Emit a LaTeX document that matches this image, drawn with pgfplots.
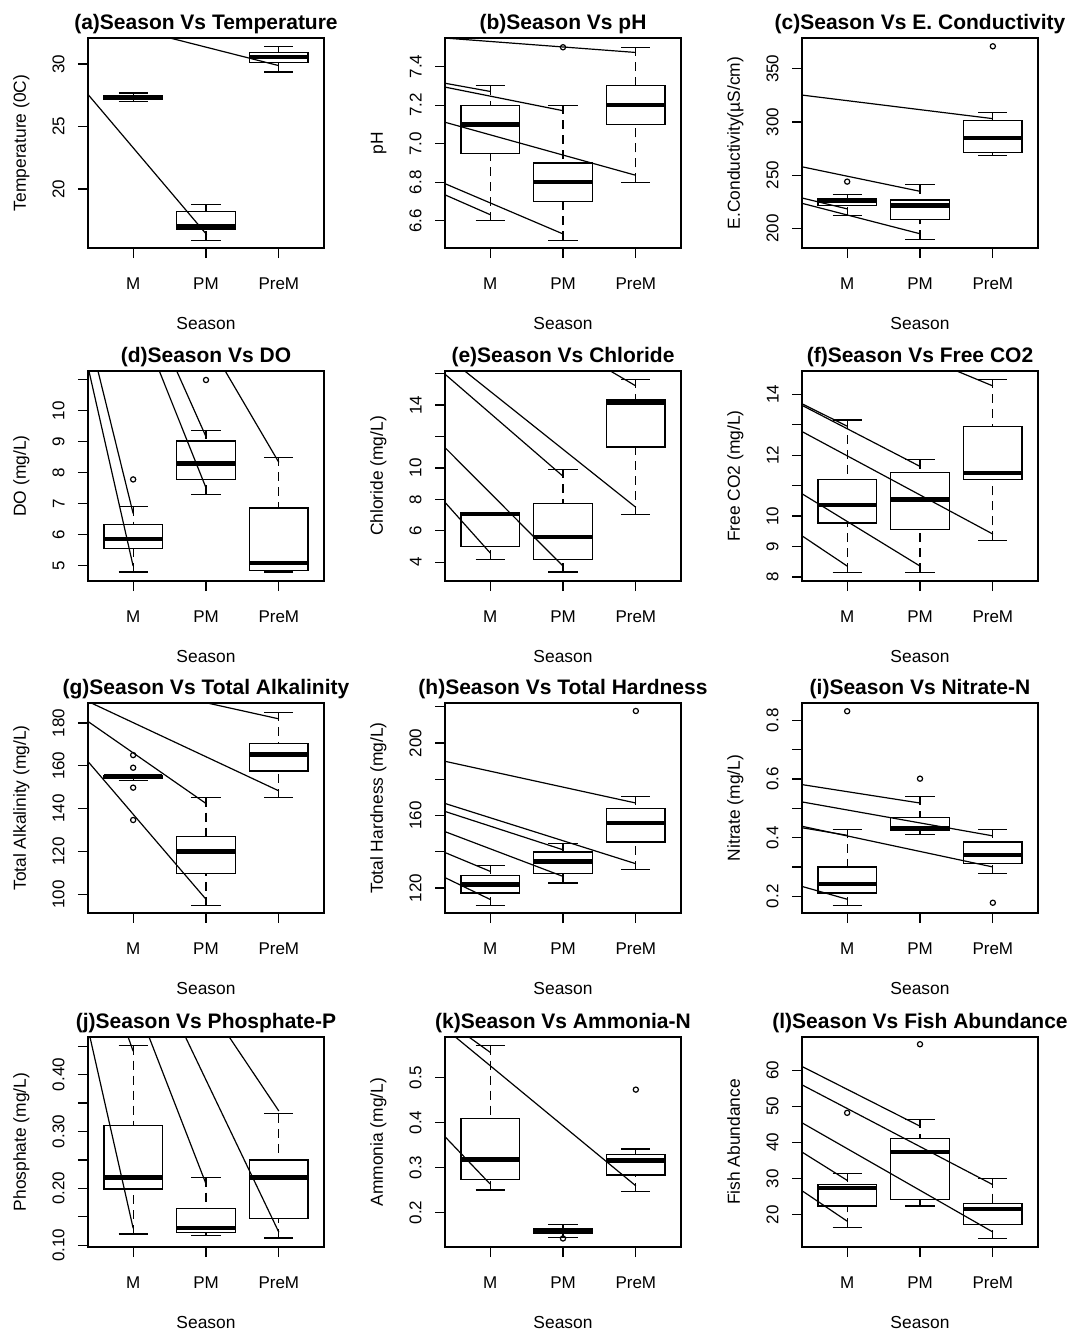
\documentclass[border=0pt]{standalone}
\usepackage{fontspec}
\setmainfont{Liberation Sans}
\usepackage{pgfplots}
\pgfplotsset{compat=1.18}
\usepgfplotslibrary{statistics}

% one R-style boxplot: position, lower whisker, q1, median, q3, upper whisker
\newcommand{\rbox}[6]{\addplot[line width=0.6pt, boxplot prepared={draw position=#1, lower whisker=#2, lower quartile=#3, median=#4, upper quartile=#5, upper whisker=#6}] coordinates {};}
% stray straight segment of the original figure
\newcommand{\seg}[4]{\addplot[line width=0.6pt, mark=none] coordinates {(#1,#2) (#3,#4)};}
\newcommand{\outl}[1]{\addplot[only marks, mark=o, mark size=1.3pt, mark options={line width=0.6pt}] coordinates {#1};}

\pgfplotsset{
  boxplot/draw/lower whisker/.code={%
    \draw[dash pattern=on 4.5pt off 3pt] (boxplot box cs:\pgfplotsboxplotvalue{lower whisker},0.5) -- (boxplot box cs:\pgfplotsboxplotvalue{lower quartile},0.5);
    \draw (boxplot whisker cs:\pgfplotsboxplotvalue{lower whisker},0) -- (boxplot whisker cs:\pgfplotsboxplotvalue{lower whisker},1);
  },
  boxplot/draw/upper whisker/.code={%
    \draw[dash pattern=on 4.5pt off 3pt] (boxplot box cs:\pgfplotsboxplotvalue{upper whisker},0.5) -- (boxplot box cs:\pgfplotsboxplotvalue{upper quartile},0.5);
    \draw (boxplot whisker cs:\pgfplotsboxplotvalue{upper whisker},0) -- (boxplot whisker cs:\pgfplotsboxplotvalue{upper whisker},1);
  },
  rpanel/.style={
    width=118pt, height=105pt, scale only axis,
    anchor=north west,
    xmin=0.38, xmax=3.62,
    xtick={1,2,3}, xticklabels={M,PM,PreM},
    tick align=outside, tick pos=left,
    major tick length=5pt,
    axis line style={line width=0.6pt},
    every tick/.style={black, line width=0.6pt},
    tick label style={font=\fontsize{8.5}{10}\selectfont, inner sep=0pt},
    /pgf/number format/assume math mode=true,
    xticklabel style={anchor=base},
    xticklabel shift=15.6pt,
    yticklabel style={rotate=90, anchor=south},
    yticklabel shift=6.5pt,
    label style={font=\fontsize{8.7}{10}\selectfont, inner sep=0pt},
    xlabel={Season},
    xlabel style={at={(axis description cs:0.5,-0.386)}, anchor=base},
    ylabel style={at={(axis description cs:-0.263,0.5)}, anchor=base},
    title style={font=\bfseries\fontsize{10.5}{12}\selectfont, inner sep=0pt,
      at={(axis description cs:0.5,1.041)}, anchor=base, yshift=-6pt},
    scaled y ticks=false,
    boxplot/draw direction=y,
    boxplot/box extend=0.8, boxplot/whisker extend=0.4,
    boxplot/every median/.style={line width=2.2pt},
  }
}

\begin{document}
\begin{tikzpicture}
\useasboundingbox (0,0) rectangle (533.5pt,-665pt);

% (a)
\begin{axis}[rpanel, at={(44pt,-19pt)}, title={(a)Season Vs Temperature}, ylabel={Temperature (0C)},
  ymin=15.28, ymax=32.08, ytick={20,25,30}, yticklabels={20,25,30}]
\rbox{1}{27.0}{27.15}{27.3}{27.5}{27.68}
\rbox{2}{15.9}{16.8}{17.0}{18.2}{18.75}
\rbox{3}{29.36}{30.13}{30.56}{30.93}{31.41}
\seg{0.375}{27.6}{2.01}{16.35}
\seg{1.506}{32.08}{3.0}{29.87}
\end{axis}

% (b)
\begin{axis}[rpanel, at={(222.5pt,-19pt)}, title={(b)Season Vs pH}, ylabel={pH},
  ymin=6.459, ymax=7.548, ytick={6.6,6.8,7.0,7.2,7.4}, yticklabels={6.6,6.8,7.0,7.2,7.4}]
\rbox{1}{6.6}{6.95}{7.1}{7.2}{7.3}
\rbox{2}{6.5}{6.7}{6.8}{6.9}{7.2}
\rbox{3}{6.8}{7.1}{7.2}{7.3}{7.5}
\outl{(2,7.5)}
\seg{0.372}{7.548}{3.0}{7.473}
\seg{0.372}{7.314}{1.0}{7.271}
\seg{0.372}{7.294}{2.0}{7.171}
\seg{0.372}{7.112}{3.0}{6.836}
\seg{0.372}{6.794}{2.0}{6.532}
\seg{0.372}{6.736}{1.0}{6.632}
\end{axis}

% (c)
\begin{axis}[rpanel, at={(401pt,-19pt)}, title={(c)Season Vs E. Conductivity}, ylabel={E.Conductivity(µS/cm)},
  ymin=181.5, ymax=378.9, ytick={200,250,300,350}, yticklabels={200,250,300,350}]
\rbox{1}{211.8}{221.4}{225.8}{227.7}{231.7}
\rbox{2}{189.6}{208.0}{221.4}{226.7}{241.1}
\rbox{3}{268.2}{271}{285}{301.5}{308.7}
\outl{(1,243.9) (3,371.1)}
\seg{0.375}{325.3}{3.0}{303.1}
\seg{0.375}{257.9}{2.0}{234.8}
\seg{0.375}{228.6}{1.0}{218.3}
\seg{0.375}{223.6}{2.0}{194.9}
\end{axis}

% (d)
\begin{axis}[rpanel, at={(44pt,-185.5pt)}, title={(d)Season Vs DO}, ylabel={DO (mg/L)},
  ymin=4.5, ymax=11.28, ytick={5,6,7,8,9,10,11}, yticklabels={5,6,7,8,9,10,}]
\rbox{1}{4.79}{5.54}{5.86}{6.33}{6.9}
\rbox{2}{7.3}{7.78}{8.3}{9.02}{9.37}
\rbox{3}{4.79}{4.83}{5.09}{6.86}{8.49}
\outl{(1,7.78) (2,10.99)}
\seg{0.393}{11.28}{1.0}{4.98}
\seg{0.517}{11.28}{1.0}{6.68}
\seg{1.359}{11.28}{2.0}{7.51}
\seg{1.598}{11.28}{2.0}{9.16}
\seg{2.264}{11.28}{3.0}{8.33}
\end{axis}

% (e)
\begin{axis}[rpanel, at={(222.5pt,-185.5pt)}, title={(e)Season Vs Chloride}, ylabel={Chloride (mg/L)},
  ymin=2.8, ymax=16.17, ytick={4,6,8,10,12,14,16}, yticklabels={4,6,8,10,,14,}]
\rbox{1}{4.17}{5.01}{7.05}{7.15}{7.15}
\rbox{2}{3.37}{4.17}{5.6}{7.75}{9.92}
\rbox{3}{7.01}{11.33}{14.17}{14.32}{15.64}
\seg{0.372}{16.0}{2.0}{9.47}
\seg{0.651}{16.17}{3.0}{7.49}
\seg{2.651}{16.17}{3.0}{15.22}
\seg{0.372}{11.33}{2.0}{3.75}
\seg{0.372}{7.85}{1.0}{4.59}
\end{axis}

% (f)
\begin{axis}[rpanel, at={(401pt,-185.5pt)}, title={(f)Season Vs Free CO2}, ylabel={Free CO2 (mg/L)},
  ymin=7.87, ymax=14.76, ytick={8,9,10,11,12,13,14}, yticklabels={8,9,10,,12,,14}]
\rbox{1}{8.16}{9.77}{10.36}{11.21}{13.15}
\rbox{2}{8.16}{9.57}{10.55}{11.42}{11.85}
\rbox{3}{9.2}{11.21}{11.42}{12.95}{14.49}
\seg{0.375}{13.69}{1.0}{12.95}
\seg{0.375}{13.64}{2.0}{11.63}
\seg{0.375}{12.78}{3.0}{9.41}
\seg{0.375}{10.74}{2.0}{8.36}
\seg{0.375}{9.36}{1.0}{8.36}
\seg{2.505}{14.76}{3.0}{14.27}
\end{axis}

% (g)
\begin{axis}[rpanel, at={(44pt,-351.5pt)}, title={(g)Season Vs Total Alkalinity}, ylabel={Total Alkalinity (mg/L)},
  ymin=91.3, ymax=189.3, ytick={100,120,140,160,180}, yticklabels={100,120,140,160,180}]
\rbox{1}{153}{154}{155}{155.5}{156}
\rbox{2}{94.7}{109.6}{120.0}{126.9}{145.2}
\rbox{3}{145.2}{157.6}{165.3}{170.3}{185.0}
\outl{(1,165.0) (1,159.1) (1,149.8) (1,134.7)}
\seg{0.375}{190.1}{3.0}{148.3}
\seg{0.375}{180.8}{2.0}{142.4}
\seg{0.375}{162.2}{2.0}{97.7}
\seg{2.019}{189.3}{3.0}{181.9}
\end{axis}

% (h)
\begin{axis}[rpanel, at={(222.5pt,-351.5pt)}, title={(h)Season Vs Total Hardness}, ylabel={Total Hardness (mg/L)},
  ymin=106.2, ymax=222.1, ytick={120,140,160,180,200,220}, yticklabels={120,,160,,200,}]
\rbox{1}{110.3}{117.2}{122.0}{127.0}{132.5}
\rbox{2}{122.8}{127.9}{134.7}{139.9}{144.5}
\rbox{3}{130.1}{145.4}{156.0}{164.0}{170.6}
\outl{(3,217.7)}
\seg{0.361}{190.1}{3.0}{166.9}
\seg{0.361}{166.9}{3.0}{133.4}
\seg{0.361}{162.5}{2.0}{141.1}
\seg{0.361}{151.4}{2.0}{126.4}
\seg{0.361}{139.9}{1.0}{129.2}
\seg{0.361}{126.1}{1.0}{113.7}
\end{axis}

% (i)
\begin{axis}[rpanel, at={(401pt,-351.5pt)}, title={(i)Season Vs Nitrate-N}, ylabel={Nitrate (mg/L)},
  ymin=0.143, ymax=0.859, ytick={0.2,0.3,0.4,0.5,0.6,0.7,0.8}, yticklabels={0.2,,0.4,,0.6,,0.8}]
\rbox{1}{0.168}{0.211}{0.241}{0.3}{0.428}
\rbox{2}{0.41}{0.423}{0.431}{0.47}{0.541}
\rbox{3}{0.277}{0.311}{0.34}{0.385}{0.428}
\outl{(1,0.831) (2,0.601) (3,0.178)}
\seg{0.375}{0.581}{2.0}{0.518}
\seg{0.375}{0.522}{3.0}{0.406}
\seg{0.375}{0.439}{3.0}{0.3}
\seg{0.375}{0.434}{1.0}{0.408}
\seg{0.375}{0.234}{1.0}{0.19}
\end{axis}

% (j)
\begin{axis}[rpanel, at={(44pt,-518.5pt)}, title={(j)Season Vs Phosphate-P}, ylabel={Phosphate (mg/L)},
  ymin=0.097, ymax=0.466, ytick={0.10,0.15,0.20,0.25,0.30,0.35,0.40,0.45}, yticklabels={0.10,,0.20,,0.30,,0.40,}]
\rbox{1}{0.120}{0.199}{0.219}{0.311}{0.451}
\rbox{2}{0.117}{0.123}{0.13}{0.165}{0.219}
\rbox{3}{0.113}{0.147}{0.219}{0.25}{0.331}
\seg{0.407}{0.466}{1.0}{0.130}
\seg{0.931}{0.466}{1.0}{0.441}
\seg{1.218}{0.466}{2.0}{0.208}
\seg{1.718}{0.466}{3.0}{0.123}
\seg{2.319}{0.466}{3.0}{0.336}
\end{axis}

% (k)
\begin{axis}[rpanel, at={(222.5pt,-518.5pt)}, title={(k)Season Vs Ammonia-N}, ylabel={Ammonia (mg/L)},
  ymin=0.123, ymax=0.59, ytick={0.2,0.3,0.4,0.5}, yticklabels={0.2,0.3,0.4,0.5}]
\rbox{1}{0.25}{0.274}{0.318}{0.409}{0.571}
\rbox{2}{0.145}{0.154}{0.16}{0.165}{0.173}
\rbox{3}{0.246}{0.283}{0.315}{0.329}{0.341}
\outl{(2,0.142) (3,0.473)}
\seg{0.523}{0.59}{3.0}{0.259}
\seg{0.708}{0.59}{1.0}{0.556}
\seg{0.37}{0.37}{1.0}{0.263}
\end{axis}

% (l)
\begin{axis}[rpanel, at={(401pt,-518.5pt)}, title={(l)Season Vs Fish Abundance}, ylabel={Fish Abundance},
  ymin=11.04, ymax=69.2, ytick={20,30,40,50,60}, yticklabels={20,30,40,50,60}]
\rbox{1}{16.5}{22.4}{27.4}{28.3}{31.5}
\rbox{2}{22.4}{24.2}{37.4}{41.2}{46.4}
\rbox{3}{13.3}{17.3}{21.5}{23.2}{30.0}
\outl{(1,48.2) (2,67.2)}
\seg{0.375}{61.1}{2.0}{44.5}
\seg{0.375}{56.0}{3.0}{28.3}
\seg{0.375}{45.5}{3.0}{15.2}
\seg{0.375}{37.4}{1.0}{29.5}
\seg{0.375}{26.7}{1.0}{18.2}
\end{axis}
\end{tikzpicture}
\end{document}
